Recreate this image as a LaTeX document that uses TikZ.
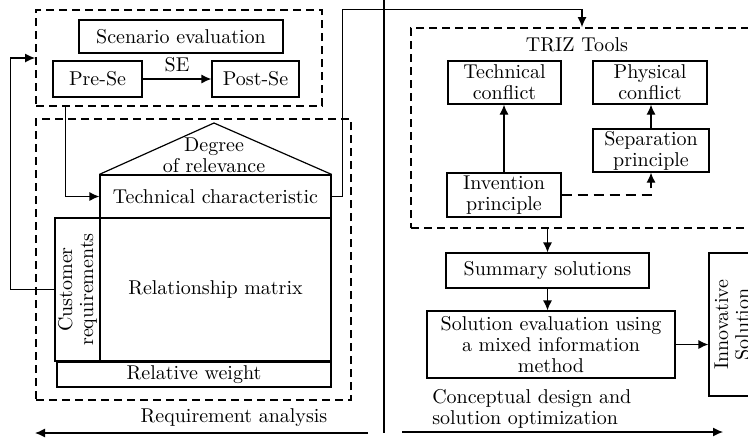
\documentclass[tikz,border=0pt]{standalone}
\usepackage{amssymb,amsmath}
\usetikzlibrary{arrows.meta}
\begin{document}
\begin{tikzpicture}[x = 0.5pt, y = -0.5pt, line width = .6pt, font = \fontsize{10}{10.5}\selectfont]
    \tikzstyle{box} = [draw, align = center, inner sep = 1pt];
    \tikzstyle{group} = [draw, line width = .9pt, dash pattern = on 4pt off 2.5pt, inner sep = 0pt];
    \tikzstyle{link} = [-{Latex[length = 5pt, width = 4.5pt]}];
    \clip (0,0) rectangle (748,440);
    % groups:
    \node[group, minimum width = 143pt, minimum height = 48pt] (scenario) at (179,58){};
    \node[group, minimum width = 157.5pt, minimum height = 140.5pt] (house) at (193.5,259.5){};
    \node[group, minimum width = 171pt, minimum height = 100pt] (triz) at (582,128){};
    % scenario evaluation:
    \node[box, minimum width = 102pt, minimum height = 16.5pt] (se) at (181,36.5){Scenario evaluation};
    \node[box, minimum width = 44.5pt, minimum height = 18pt] (pre) at (97.5,79){Pre-Se};
    \node[box, minimum width = 43.5pt, minimum height = 18pt] (post) at (255.5,79){Post-Se};
    % house of quality:
    \coordinate (apex) at (214,123);
    \node[box, minimum width = 115.5pt, minimum height = 21.5pt] (tech) at (215.5,196.5){Technical characteristic};
    \node[box, rotate = 90, minimum width = 71.5pt, minimum height = 22.5pt] (cust) at (77.5,289.5){Customer\\requirements};
    \node[box, minimum width = 115.5pt, minimum height = 71.5pt] (matrix) at (215.5,289.5){Relationship matrix};
    \node[box, minimum width = 137pt, minimum height = 12.5pt] (weight) at (194,374.5){Relative weight};
    \node[align = center] (relevance) at (214,155){Degree\\of relevance};
    % triz tools:
    \node (tools) at (577,45){TRIZ Tools};
    \node[box, minimum width = 56.5pt, minimum height = 21.5pt] (tconf) at (504.5,82.5){Technical\\conflict};
    \node[box, minimum width = 57pt, minimum height = 21.5pt] (pconf) at (650,82.5){Physical\\conflict};
    \node[box, minimum width = 58pt, minimum height = 21.5pt] (sep) at (651,150.5){Separation\\principle};
    \node[box, minimum width = 57pt, minimum height = 22pt] (inv) at (504,195){Invention\\principle};
    % solutions:
    \node[box, minimum width = 101.5pt, minimum height = 17.5pt] (summ) at (547.5,270.5){Summary solutions};
    \node[box, minimum width = 124pt, minimum height = 33.5pt] (eval) at (551,344.5){Solution evaluation using\\a mixed information\\method};
    \node[box, rotate = 90, minimum width = 71.5pt, minimum height = 23pt] (innov) at (732,324.5){Innovative\\Solution};
    % stages:
    \coordinate (top) at (384,0);
    \coordinate (bottom) at (384,433);
    \coordinate (ra1) at (368,433);
    \coordinate (ra2) at (35,433);
    \coordinate (cd1) at (402,432);
    \coordinate (cd2) at (723,432);
    \node (ra) at (234,418){Requirement analysis};
    \node[anchor = west, align = left] (cd) at (425,409){Conceptual design and\\solution optimization};
    % lines:
    \draw[link] (pre) -- node[above]{SE} (post);
    \draw[link] (cust.north) -- ++(-44,0) |- (scenario.west);
    \draw[link] (scenario.south west) ++(30,0) |- (tech.west);
    \draw (tech.north west) -- (apex) -- (tech.north east);
    \draw[link] (tech.east) -- ++(11,0) -- ++(0,-187) -| (triz.north);
    \draw[link] (inv.north) -- (inv.north |- tconf.south);
    \draw[link] (sep.north) -- (sep.north |- pconf.south);
    \draw[link, dash pattern = on 5pt off 3pt] (inv.east) -| (sep.south);
    \draw[link] (summ.north |- triz.south) -- (summ.north);
    \draw[link] (summ.south) -- (summ.south |- eval.north);
    \draw[link] (eval.east) -- (eval.east -| innov.north);
    \draw (top) -- (bottom);
    \draw[link] (ra1) -- (ra2);
    \draw[link] (cd1) -- (cd2);
\end{tikzpicture}
\end{document}
